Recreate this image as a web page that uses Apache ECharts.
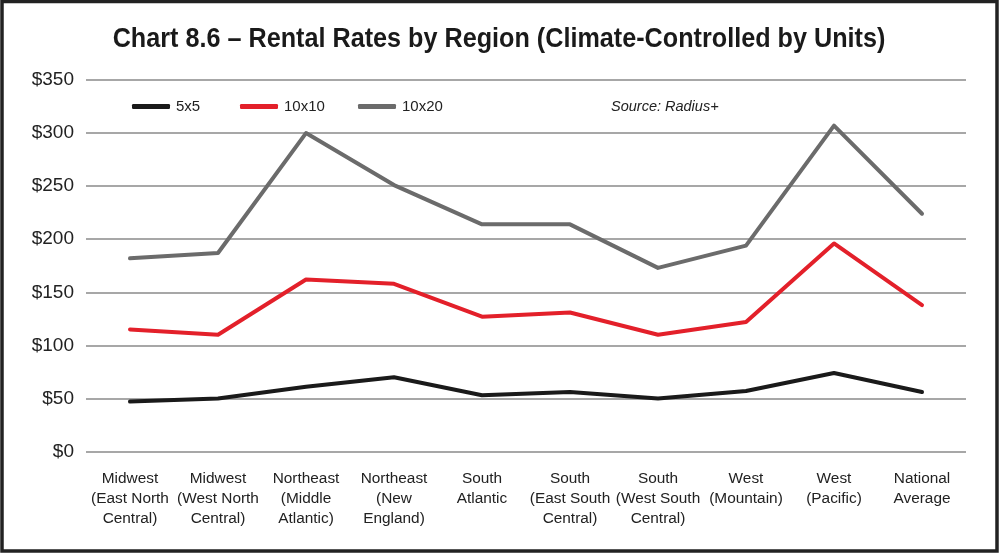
<!DOCTYPE html>
<html>
<head>
<meta charset="utf-8">
<script src="https://cdn.jsdelivr.net/npm/echarts@6/dist/echarts.min.js"></script>
<style>
html,body{margin:0;padding:0;background:#fff;}
#chart{width:1000px;height:554px;}
</style>
</head>
<body>
<div id="chart"></div>
<script>
var categories = [
  "Midwest\n(East North\nCentral)",
  "Midwest\n(West North\nCentral)",
  "Northeast\n(Middle\nAtlantic)",
  "Northeast\n(New\nEngland)",
  "South\nAtlantic",
  "South\n(East South\nCentral)",
  "South\n(West South\nCentral)",
  "West\n(Mountain)",
  "West\n(Pacific)",
  "National\nAverage"
];
var units5x5   = [47, 50, 61, 70, 53, 56, 50, 57, 74, 56];
var units10x10 = [115, 110, 162, 158, 127, 131, 110, 122, 196, 138];
var units10x20 = [182, 187, 300, 251, 214, 214, 173, 194, 307, 224];
var yTicks = { min: 0, max: 350, interval: 50 };

var font = "'Liberation Sans', Arial, Helvetica, sans-serif";
var chart = echarts.init(document.getElementById('chart'), null, {renderer: 'canvas'});

function legendAt(name, left) {
  return {
    data: [name],
    left: left,
    top: 99,
    icon: 'roundRect',
    itemWidth: 38,
    itemHeight: 5,
    itemGap: 0,
    textStyle: { fontFamily: font, fontSize: 15, color: '#222', padding: [0, 0, 0, 1] },
    padding: 0,
    selectedMode: false
  };
}

function lineSeries(name, data, color) {
  return {
    name: name,
    type: 'line',
    data: data,
    symbol: 'none',
    smooth: false,
    lineStyle: { width: 4, color: color, cap: 'round', join: 'round' },
    itemStyle: { color: color },
    emphasis: { disabled: true }
  };
}

chart.setOption({
  animation: false,
  backgroundColor: '#fff',
  legend: [
    legendAt('5x5', 132),
    legendAt('10x10', 240),
    legendAt('10x20', 358)
  ],
  grid: { left: 86, right: 34, top: 80, bottom: 102.5, containLabel: false },
  xAxis: {
    type: 'category',
    data: categories,
    boundaryGap: true,
    axisLine: { show: false },
    axisTick: { show: false },
    axisLabel: { interval: 0, margin: 17, fontFamily: font, fontSize: 15.4, lineHeight: 20, color: '#222' },
    splitLine: { show: false }
  },
  yAxis: {
    type: 'value',
    min: yTicks.min,
    max: yTicks.max,
    interval: yTicks.interval,
    axisLine: { show: false },
    axisTick: { show: false },
    axisLabel: { margin: 12, fontFamily: font, fontSize: 19, color: '#222', formatter: function (v) { return '$' + v; } },
    splitLine: { show: true, lineStyle: { color: '#8a8a8a', width: 1.5 } }
  },
  graphic: [
    {
      type: 'rect',
      shape: { x: 2, y: 1.5, width: 995, height: 549.5 },
      style: { fill: 'none', stroke: '#222', lineWidth: 3.5 },
      silent: true
    },
    {
      type: 'text',
      x: 499,
      y: 40,
      scaleX: 0.933,
      style: {
        text: 'Chart 8.6 \u2013 Rental Rates by Region (Climate-Controlled by Units)',
        font: 'bold 27px ' + font,
        fill: '#1a1a1a',
        textAlign: 'center',
        textVerticalAlign: 'middle'
      },
      silent: true
    },
    {
      type: 'text',
      left: 611,
      top: 99,
      style: { text: 'Source: Radius+', font: 'italic 14.5px ' + font, fill: '#222' },
      silent: true
    }
  ],
  series: [
    lineSeries('5x5', units5x5, '#1a1a1a'),
    lineSeries('10x10', units10x10, '#e3202a'),
    lineSeries('10x20', units10x20, '#6b6b6b')
  ]
});
</script>
</body>
</html>
